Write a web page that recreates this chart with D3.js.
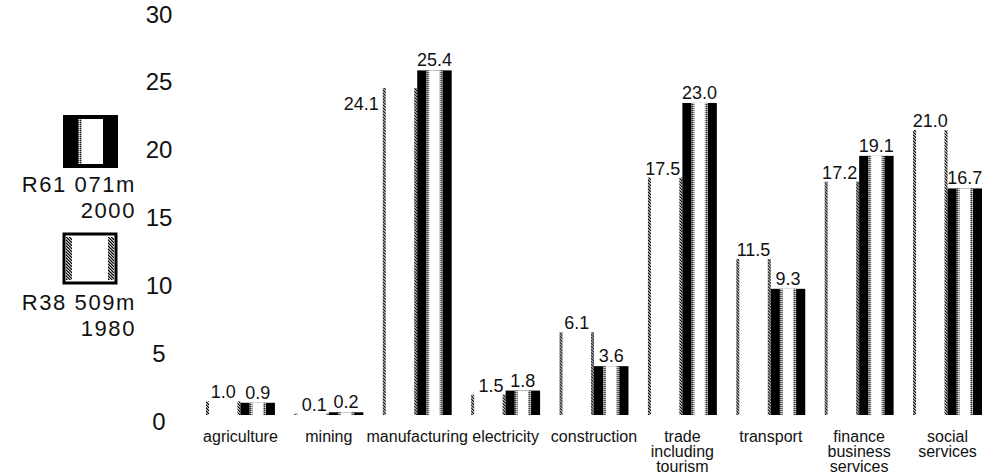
<!DOCTYPE html>
<html>
<head>
<meta charset="utf-8">
<script src="https://cdn.jsdelivr.net/npm/d3@7"></script>
<style>
  body { margin: 0; background: #fff; }
  svg { display: block; font-family: "Liberation Sans", Arial, sans-serif; }
</style>
</head>
<body>
<svg id="chart"></svg>
<script>
const categories = [
  "agriculture",
  "mining",
  "manufacturing",
  "electricity",
  "construction",
  "trade including tourism",
  "transport",
  "finance business services",
  "social services",
];
const values1980 = [1.0, 0.1, 24.1, 1.5, 6.1, 17.5, 11.5, 17.2, 21.0];
const values2000 = [0.9, 0.2, 25.4, 1.8, 3.6, 23.0, 9.3, 19.1, 16.7];
const series = ["1980", "2000"];
const totals = ["R38 509m", "R61 071m"];
const yTicks = [0, 5, 10, 15, 20, 25, 30];

const width = 1000;
const height = 475;

const svg = d3.select("#chart").attr("width", width).attr("height", height);

// dithered patterns that mimic the scanned bar edges
const defs = svg.append("defs");
const hatch = defs
  .append("pattern")
  .attr("id", "hatch")
  .attr("patternUnits", "userSpaceOnUse")
  .attr("width", 3)
  .attr("height", 3);
[
  [0, 0, "#000"], [1, 0, "#777"], [2, 0, "#ddd"],
  [1, 1, "#000"], [2, 1, "#777"], [0, 1, "#bbb"],
  [2, 2, "#000"], [0, 2, "#777"], [1, 2, "#bbb"],
].forEach(([px, py, c]) =>
  hatch.append("rect").attr("x", px).attr("y", py).attr("width", 1).attr("height", 1).attr("fill", c)
);
const dither = defs
  .append("pattern")
  .attr("id", "dither")
  .attr("patternUnits", "userSpaceOnUse")
  .attr("width", 2)
  .attr("height", 2);
[
  [0, 0, "#222"], [1, 0, "#999"], [0, 1, "#999"], [1, 1, "#ddd"],
].forEach(([px, py, c]) =>
  dither.append("rect").attr("x", px).attr("y", py).attr("width", 1).attr("height", 1).attr("fill", c)
);

const x0 = d3.scaleBand().domain(categories).range([206, 982]).paddingInner(0.22);
const x1 = d3.scaleBand().domain(series).range([0, x0.bandwidth()]);
const y = d3.scaleLinear().domain([0, 30]).range([415, 8]);

// y tick labels (no axis line in the original)
svg
  .append("g")
  .selectAll("text")
  .data(yTicks)
  .join("text")
  .attr("x", 159)
  .attr("y", (d) => y(d) + 6)
  .attr("text-anchor", "middle")
  .attr("dominant-baseline", "central")
  .attr("font-size", 24)
  .attr("fill", "#111")
  .text((d) => d);

const rows = categories.map((c, i) => ({
  cat: c,
  v1980: values1980[i],
  v2000: values2000[i],
}));

const groups = svg
  .append("g")
  .selectAll("g")
  .data(rows)
  .join("g")
  .attr("transform", (d) => `translate(${x0(d.cat)},0)`);

// 1980 bars: open outline with hatched edges
const w1 = x1.bandwidth();
groups
  .append("rect")
  .attr("x", x1("1980"))
  .attr("y", (d) => y(d.v1980))
  .attr("width", 3)
  .attr("height", (d) => y(0) - y(d.v1980))
  .attr("fill", "url(#hatch)");
groups
  .append("rect")
  .attr("x", x1("1980") + w1 - 3)
  .attr("y", (d) => y(d.v1980))
  .attr("width", 3)
  .attr("height", (d) => y(0) - y(d.v1980))
  .attr("fill", "url(#hatch)");

// 2000 bars: black edges, white centre
const w2 = x1.bandwidth();
const stripe = 11;
groups
  .append("rect")
  .attr("x", x1("2000"))
  .attr("y", (d) => y(d.v2000))
  .attr("width", w2)
  .attr("height", (d) => y(0) - y(d.v2000))
  .attr("fill", "#000");
groups
  .append("rect")
  .attr("x", x1("2000") + stripe)
  .attr("y", (d) => y(d.v2000))
  .attr("width", w2 - 2 * stripe)
  .attr("height", (d) => y(0) - y(d.v2000))
  .attr("fill", "#fff");
groups
  .append("rect")
  .attr("x", x1("2000") + stripe - 2)
  .attr("y", (d) => y(d.v2000))
  .attr("width", 3)
  .attr("height", (d) => y(0) - y(d.v2000))
  .attr("fill", "url(#dither)");
groups
  .append("rect")
  .attr("x", x1("2000") + w2 - stripe - 1)
  .attr("y", (d) => y(d.v2000))
  .attr("width", 3)
  .attr("height", (d) => y(0) - y(d.v2000))
  .attr("fill", "url(#dither)");

// value labels
groups
  .append("text")
  .attr("x", x1("2000") + w2 / 2)
  .attr("y", (d) => y(d.v2000) - 4)
  .attr("text-anchor", "middle")
  .attr("font-size", 18)
  .attr("fill", "#111")
  .text((d) => d.v2000.toFixed(1));

groups
  .append("text")
  .each(function (d) {
    const t = d3.select(this);
    const gap = y(d.v1980) - y(d.v2000);
    if (d.v2000 > d.v1980 && gap >= 10 && gap < 24) {
      t.attr("x", x1("1980") - 4).attr("y", y(d.v1980) + 22).attr("text-anchor", "end");
    } else if (d.v2000 > d.v1980) {
      t.attr("x", x1("2000") - 2).attr("y", y(d.v1980) - 3).attr("text-anchor", "end");
    } else {
      t.attr("x", x1("1980") + w1 / 2).attr("y", y(d.v1980) - 3).attr("text-anchor", "middle");
    }
  })
  .attr("font-size", 18)
  .attr("fill", "#111")
  .text((d) => d.v1980.toFixed(1));

// category labels, wrapped on spaces
svg
  .append("g")
  .selectAll("text")
  .data(categories)
  .join("text")
  .attr("x", (d) => x0(d) + x0.bandwidth() / 2)
  .attr("y", 442)
  .attr("text-anchor", "middle")
  .attr("font-size", 16)
  .attr("fill", "#111")
  .each(function (d) {
    const t = d3.select(this);
    const cx = x0(d) + x0.bandwidth() / 2;
    d.split(" ").forEach((word, k) => {
      t.append("tspan").attr("x", cx).attr("dy", k === 0 ? 0 : 15).text(word);
    });
  });

// legend
const legend = svg.append("g");
// 2000 swatch
legend.append("rect").attr("x", 63).attr("y", 115).attr("width", 55).attr("height", 53).attr("fill", "#000");
legend.append("rect").attr("x", 80).attr("y", 119).attr("width", 23).attr("height", 45).attr("fill", "#fff");
legend.append("rect").attr("x", 78).attr("y", 119).attr("width", 4).attr("height", 45).attr("fill", "url(#dither)");
// 1980 swatch
legend
  .append("rect")
  .attr("x", 64)
  .attr("y", 234)
  .attr("width", 52)
  .attr("height", 49)
  .attr("fill", "#fff")
  .attr("stroke", "#000")
  .attr("stroke-width", 3);
legend.append("rect").attr("x", 66).attr("y", 237).attr("width", 6).attr("height", 43).attr("fill", "url(#hatch)");
legend.append("rect").attr("x", 108).attr("y", 237).attr("width", 6).attr("height", 43).attr("fill", "url(#hatch)");

const legendText = [
  { total: totals[1], year: series[1], y: 192 },
  { total: totals[0], year: series[0], y: 310 },
];
legendText.forEach((d) => {
  legend
    .append("text")
    .attr("x", 136)
    .attr("y", d.y)
    .attr("text-anchor", "end")
    .attr("font-size", 22)
    .attr("letter-spacing", 1.6)
    .attr("fill", "#111")
    .text(d.total);
  legend
    .append("text")
    .attr("x", 136)
    .attr("y", d.y + 26)
    .attr("text-anchor", "end")
    .attr("font-size", 22)
    .attr("letter-spacing", 1.6)
    .attr("fill", "#111")
    .text(d.year);
});
</script>
</body>
</html>
